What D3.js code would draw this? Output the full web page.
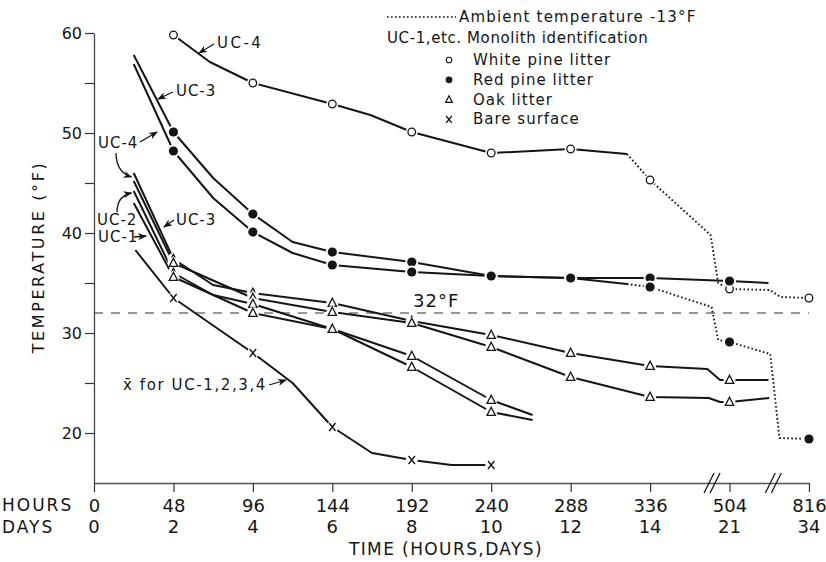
<!DOCTYPE html>
<html><head><meta charset="utf-8">
<script src="https://cdn.jsdelivr.net/npm/d3@7/dist/d3.min.js"></script>
<style>
body{margin:0;background:#fff;}
svg text{font-family:"DejaVu Sans",sans-serif;fill:#151515;}
</style></head><body>
<svg id="c" width="826" height="562"></svg>
<script>
// ---- data (hours, °F) ----
const hoursTicks = [0,48,96,144,192,240,288,336,504,816];
const daysTicks  = [0,2,4,6,8,10,12,14,21,34];
const yTickValues = [20,25,30,35,40,45,50,55,60];

const whitePineUC4     = [[48,59.8],[70,57.1],[96,55.0],[144,52.9],[167,51.8],[192,50.1],[240,48.0],[288,48.4],[322,47.9]];
const whitePineUC4Cold = [[322,47.9],[336,45.3],[464,39.8],[480,35.0],[504,34.4],[663,34.3],[704,33.6],[816,33.5]];

const redPineUC3     = [[24,57.8],[48,50.1],[72,45.5],[96,41.9],[120,39.1],[144,38.1],[192,37.1],[240,35.7],[288,35.5],[336,35.5],[504,35.2],[657,35.0]];
const redPineUC4     = [[24,56.9],[48,48.2],[72,43.5],[96,40.1],[120,38.0],[144,36.8],[192,36.1],[240,35.7],[288,35.5],[322,34.9]];
const redPineUC4Cold = [[322,34.9],[336,34.6],[466,32.6],[480,29.3],[504,29.1],[664,27.9],[700,19.5],[816,19.4]];

const oakA = [[24,46.0],[48,37.4],[72,34.8],[96,34.0],[144,33.0],[192,31.2],[240,29.8],[288,28.0],[336,26.7],[457,26.4],[484,25.3],[504,25.3],[657,25.3]];
const oakB = [[24,45.2],[48,37.0],[96,33.5],[144,32.1],[192,31.0],[240,28.6],[288,25.6],[336,23.6],[460,23.5],[484,23.1],[504,23.1],[660,23.5]];
const oakC = [[24,44.2],[48,36.0],[72,33.8],[96,32.9],[144,30.4],[192,27.7],[240,23.3],[265,21.8]];
const oakD = [[24,43.0],[48,35.6],[96,32.0],[144,30.4],[192,26.6],[240,22.1],[265,21.3]];

const bareMean = [[25,38.3],[48,33.5],[96,28.0],[120,25.0],[144,20.6],[168,18.0],[192,17.3],[216,16.8],[240,16.8]];

const freezing = 32;
const axisBreakHours = [467,676];

// ---- scales ----
const W = 79.44, X0 = 94;
const x = d3.scaleLinear().domain([0,336,504,816]).range([X0, X0+7*W, X0+8*W, X0+9*W]);
const y = d3.scaleLinear().domain([15,60]).range([483,33]);

const svg = d3.select("#c");
const ink = "#151515";

svg.append("defs").append("marker")
  .attr("id","arr").attr("markerUnits","userSpaceOnUse")
  .attr("markerWidth",9).attr("markerHeight",7).attr("refX",8).attr("refY",3.5)
  .attr("orient","auto")
  .append("path").attr("d","M0,0 L9,3.5 L0,7 L2.5,3.5 Z").attr("fill",ink);

// ---- axes ----
const xAxis = svg.append("g").attr("transform",`translate(0,${y(15)})`)
  .call(d3.axisBottom(x).tickValues(hoursTicks).tickSize(9).tickSizeOuter(0).tickPadding(7).tickFormat(d=>d));
xAxis.select(".domain").attr("stroke","#555").attr("stroke-width",1.3);
xAxis.selectAll(".tick line").attr("stroke","#333").attr("stroke-width",1.2);
xAxis.selectAll(".tick text").attr("font-size",18).attr("font-family","DejaVu Sans").attr("fill",ink);

// days row
svg.append("g").selectAll("text").data(daysTicks).join("text")
  .attr("x",(d,i)=>x(hoursTicks[i])).attr("y",533)
  .attr("text-anchor","middle").attr("font-size",18).text(d=>d);
svg.append("text").attr("x",2).attr("y",511).attr("font-size",17).attr("letter-spacing",2).text("HOURS");
svg.append("text").attr("x",2).attr("y",533).attr("font-size",17).attr("letter-spacing",2).text("DAYS");
svg.append("text").attr("x",446).attr("y",555).attr("text-anchor","middle").attr("font-size",17).attr("letter-spacing",1.4).text("TIME (HOURS,DAYS)");

// axis breaks
axisBreakHours.forEach(h=>{
  const cx = x(h);
  [-3,3].forEach(dx=>{
    svg.append("line").attr("x1",cx+dx-5).attr("y1",y(15)+10).attr("x2",cx+dx+5).attr("y2",y(15)-10)
      .attr("stroke",ink).attr("stroke-width",1.3);
  });
});

const yAxis = svg.append("g").attr("transform",`translate(${X0},0)`)
  .call(d3.axisLeft(y).tickValues(yTickValues).tickSize(9).tickSizeOuter(0).tickPadding(3).tickFormat(d=>d%10===0?d:""));
yAxis.select(".domain").attr("stroke","#444").attr("stroke-width",1.3);
yAxis.selectAll(".tick line").attr("stroke","#333").attr("stroke-width",1.2);
yAxis.selectAll(".tick text").attr("font-size",16).attr("font-family","DejaVu Sans").attr("fill",ink);

svg.append("text").attr("transform","translate(44,257) rotate(-90)").attr("text-anchor","middle")
  .attr("font-size",16).attr("letter-spacing",2.6).text("TEMPERATURE (°F)");

// 32°F reference
svg.append("line").attr("x1",X0).attr("x2",x(816)).attr("y1",y(freezing)).attr("y2",y(freezing))
  .attr("stroke","#333").attr("stroke-width",1.2).attr("stroke-dasharray","9,8");
svg.append("text").attr("x",x(192.8)).attr("y",y(32.6)).attr("font-size",18).attr("letter-spacing",1).text("32°F");

// ---- lines ----
const line = d3.line().x(d=>x(d[0])).y(d=>y(d[1]));
function drawLine(data, dotted){
  svg.append("path").datum(data).attr("d",line).attr("fill","none")
    .attr("stroke",ink).attr("stroke-width",dotted?1.9:2)
    .attr("stroke-linejoin","round")
    .attr("stroke-dasharray",dotted?"1.6,2.4":null);
}
[whitePineUC4, redPineUC3, redPineUC4, oakA, oakB, oakC, oakD, bareMean].forEach(d=>drawLine(d,false));
[whitePineUC4Cold, redPineUC4Cold].forEach(d=>drawLine(d,true));

// ---- markers ----
const markHours = new Set(hoursTicks.slice(1));
function marks(data, kind){
  const pts = data.filter(d=>markHours.has(d[0]));
  const g = svg.append("g");
  pts.forEach(d=>{
    const px = x(d[0]), py = y(d[1]);
    g.append("circle").attr("cx",px).attr("cy",py).attr("r",kind==="filled"?6.5:6).attr("fill","#fff");
    if(kind==="open"){
      g.append("circle").attr("cx",px).attr("cy",py).attr("r",3.8).attr("fill","#fff").attr("stroke",ink).attr("stroke-width",1.3);
    } else if(kind==="filled"){
      g.append("circle").attr("cx",px).attr("cy",py).attr("r",4.6).attr("fill",ink);
    } else if(kind==="tri"){
      g.append("path").attr("d",`M${px},${py-4.8} L${px+4.2},${py+3.4} L${px-4.2},${py+3.4} Z`)
        .attr("fill","#fff").attr("stroke",ink).attr("stroke-width",1.3);
    } else {
      g.append("path").attr("d",`M${px-3.2},${py-4} L${px+3.2},${py+4} M${px+3.2},${py-4} L${px-3.2},${py+4}`)
        .attr("stroke",ink).attr("stroke-width",1.4);
    }
  });
}
marks(whitePineUC4.concat(whitePineUC4Cold.slice(1)),"open");
marks(redPineUC3,"filled");
marks(redPineUC4.concat(redPineUC4Cold.slice(1)),"filled");
[oakA,oakB,oakC,oakD].forEach(d=>marks(d,"tri"));
marks(bareMean,"x");

// ---- annotations (placed in data units) ----
function label(h,v,txt,ls){
  return svg.append("text").attr("x",x(h)).attr("y",y(v)).attr("font-size",15).attr("letter-spacing",ls==null?1:ls).text(txt);
}
function arrow(h1,v1,h2,v2){
  svg.append("line").attr("x1",x(h1)).attr("y1",y(v1)).attr("x2",x(h2)).attr("y2",y(v2))
    .attr("stroke",ink).attr("stroke-width",1.3).attr("marker-end","url(#arr)");
}
function curve(h1,v1,hc,vc,h2,v2){
  svg.append("path").attr("d",`M${x(h1)},${y(v1)} Q${x(hc)},${y(vc)} ${x(h2)},${y(v2)}`)
    .attr("fill","none").attr("stroke",ink).attr("stroke-width",1.3).attr("marker-end","url(#arr)");
}
label(74.3,58.5,"UC-4",2.5); arrow(72.5,58.9,63.5,58.0);
label(49.5,53.7,"UC-3"); arrow(47.7,54.1,38.7,53.4);
label(2.4,48.5,"UC-4");  arrow(27.8,49.1,38.1,50.1);
curve(13.3,48.0,13.3,46.1,22.6,45.6);
label(1.8,40.8,"UC-2");  curve(13.9,42.1,13.9,43.7,22.6,44.0);
label(2.4,39.1,"UC-1");  arrow(24.2,39.6,31.4,39.7);
label(49.5,40.8,"UC-3"); arrow(48.3,41.3,42.3,40.6);
label(17.5,24.3,"x\u0304 for UC-1,2,3,4",1.6); arrow(105.8,24.8,116,25.3);

// ---- legend ----
const lg = svg.append("g").attr("font-size",15);
lg.append("line").attr("x1",387).attr("x2",456).attr("y1",17).attr("y2",17)
  .attr("stroke",ink).attr("stroke-width",1.6).attr("stroke-dasharray","1.6,2.4");
lg.append("text").attr("x",459).attr("y",22).attr("font-size",15).attr("letter-spacing",1.2).text("Ambient temperature  -13°F");
lg.append("text").attr("x",387).attr("y",43).attr("font-size",15).attr("letter-spacing",0.6).text("UC-1,etc. Monolith identification");
const legendItems = ["White pine litter","Red pine litter","Oak litter","Bare surface"];
const legendKinds = ["open","filled","tri","x"];
legendItems.forEach((t,i)=>{
  const cy = 60 + i*19.8, cx = 449;
  const k = legendKinds[i];
  if(k==="open") lg.append("circle").attr("cx",cx).attr("cy",cy).attr("r",2.8).attr("fill","#fff").attr("stroke",ink).attr("stroke-width",1.1);
  if(k==="filled") lg.append("circle").attr("cx",cx).attr("cy",cy).attr("r",3.4).attr("fill",ink);
  if(k==="tri") lg.append("path").attr("d",`M${cx},${cy-3.8} L${cx+3.4},${cy+2.8} L${cx-3.4},${cy+2.8} Z`).attr("fill","#fff").attr("stroke",ink).attr("stroke-width",1.2);
  if(k==="x") lg.append("path").attr("d",`M${cx-2.8},${cy-3.4} L${cx+2.8},${cy+3.4} M${cx+2.8},${cy-3.4} L${cx-2.8},${cy+3.4}`).attr("stroke",ink).attr("stroke-width",1.3);
  lg.append("text").attr("x",473).attr("y",cy+5).attr("font-size",15).attr("letter-spacing",1).text(t);
});
</script>
</body></html>
